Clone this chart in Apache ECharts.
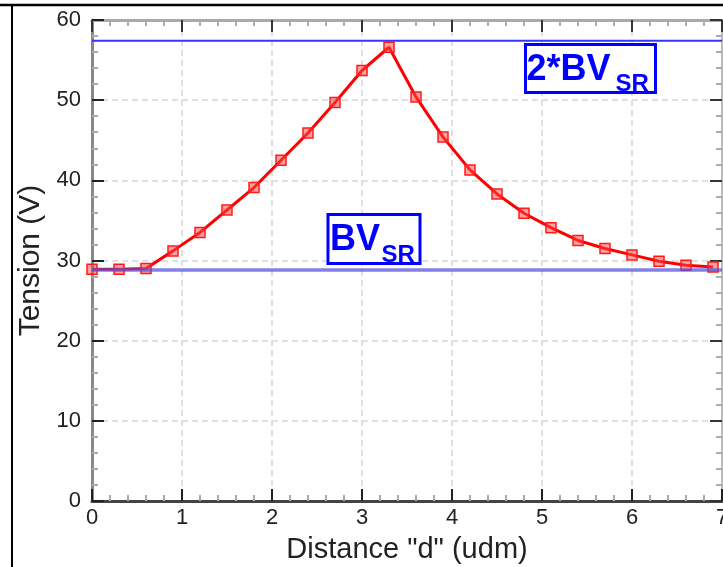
<!DOCTYPE html>
<html>
<head>
<meta charset="utf-8">
<script src="https://cdn.jsdelivr.net/npm/echarts@6/dist/echarts.min.js"></script>
<style>
html,body{margin:0;padding:0;background:#fff;}
#c{width:723px;height:567px;}
</style>
</head>
<body>
<div id="c"></div>
<script>
// ---- data ----
var distance = [0, 0.3, 0.6, 0.9, 1.2, 1.5, 1.8, 2.1, 2.4, 2.7, 3.0, 3.3,
                3.6, 3.9, 4.2, 4.5, 4.8, 5.1, 5.4, 5.7, 6.0, 6.3, 6.6, 6.9];
var tension = [28.9, 28.9, 29.0, 31.2, 33.5, 36.3, 39.1, 42.5, 45.9, 49.7, 53.7, 56.6,
               50.4, 45.4, 41.3, 38.3, 35.9, 34.1, 32.5, 31.5, 30.7, 29.9, 29.4, 29.2];
var refLevels = [57.4, 28.8];           // 2*BV_SR, BV_SR
var refNames = ['2*BV', 'BV'];
var xTicks = [0, 1, 2, 3, 4, 5, 6, 7];
var yTicks = [0, 10, 20, 30, 40, 50, 60];
var xTitle = 'Distance "d" (udm)';
var yTitle = 'Tension (V)';

var FONT = '"Liberation Sans", Arial, sans-serif';
var chart = echarts.init(document.getElementById('c'), null, {renderer: 'canvas'});

var pts = distance.map(function (d, i) { return [d, tension[i]]; });
var xMin = xTicks[0], xMax = xTicks[xTicks.length - 1];
var yMin = yTicks[0], yMax = yTicks[yTicks.length - 1];

function refSeries(level, color, width) {
  return {
    type: 'line', xAxisIndex: 0, yAxisIndex: 0,
    data: [[xMin, level], [xMax, level]],
    symbol: 'none', silent: true, z: 5,
    lineStyle: {color: color, width: width}
  };
}

chart.setOption({
  animation: false,
  backgroundColor: '#fff',
  grid: {left: 92, top: 20, right: 1, bottom: 66, containLabel: false, outerBoundsMode: 'none'},
  xAxis: [{
    type: 'value', min: xMin, max: xMax, interval: 1, position: 'bottom',
    name: xTitle, nameLocation: 'middle', nameGap: 34,
    nameTextStyle: {fontFamily: FONT, fontSize: 29, color: '#222'},
    axisLine: {show: true, onZero: false, lineStyle: {color: '#444', width: 3}},
    axisTick: {show: true, inside: true, length: 12, lineStyle: {color: '#222', width: 2}},
    minorTick: {show: true, splitNumber: 5, length: 6, lineStyle: {color: '#aaa', width: 2}},
    axisLabel: {fontFamily: FONT, fontSize: 22, color: '#222', margin: 6},
    splitLine: {show: true, lineStyle: {color: '#d6d6d6', width: 1.5, type: [6, 4]}}
  }, {
    type: 'value', min: xMin, max: xMax, interval: 1, position: 'top',
    axisLine: {show: true, onZero: false, lineStyle: {color: '#aaa', width: 3}},
    axisTick: {show: true, inside: true, length: 12, lineStyle: {color: '#333', width: 2}},
    minorTick: {show: true, splitNumber: 5, length: 6, lineStyle: {color: '#aaa', width: 2}},
    axisLabel: {show: false}, splitLine: {show: false}
  }],
  yAxis: [{
    type: 'value', min: yMin, max: yMax, interval: 10, position: 'left',
    name: yTitle, nameLocation: 'middle', nameGap: 46, nameRotate: 90,
    nameTextStyle: {fontFamily: FONT, fontSize: 30, color: '#222'},
    axisLine: {show: true, onZero: false, lineStyle: {color: '#888', width: 3}},
    axisTick: {show: true, inside: true, length: 12, lineStyle: {color: '#222', width: 2}},
    minorTick: {show: true, splitNumber: 5, length: 6, lineStyle: {color: '#aaa', width: 2}},
    axisLabel: {fontFamily: FONT, fontSize: 22, color: '#222', margin: 11},
    splitLine: {show: true, lineStyle: {color: '#d6d6d6', width: 1.5, type: [6, 4]}}
  }, {
    type: 'value', min: yMin, max: yMax, interval: 10, position: 'right',
    axisLine: {show: true, onZero: false, lineStyle: {color: '#bbb', width: 2}},
    axisTick: {show: true, inside: true, length: 12, lineStyle: {color: '#333', width: 2}},
    minorTick: {show: true, splitNumber: 5, length: 6, lineStyle: {color: '#aaa', width: 2}},
    axisLabel: {show: false}, splitLine: {show: false}
  }],
  series: [
    {
      type: 'line', xAxisIndex: 0, yAxisIndex: 0, data: pts, z: 3,
      symbol: 'rect', symbolSize: 10,
      lineStyle: {color: '#ff0000', width: 3},
      itemStyle: {color: 'rgba(255,70,70,0.5)', borderColor: '#ff1a1a', borderWidth: 1.5}
    },
    refSeries(refLevels[0], '#3535ff', 2),
    refSeries(refLevels[1], 'rgba(80,80,225,0.72)', 3.5)
  ],
  graphic: [
    // outer frame (top and left borders visible in reference)
    {type: 'line', shape: {x1: 0, y1: 5, x2: 723, y2: 5}, style: {stroke: '#000', lineWidth: 2.5}},
    {type: 'line', shape: {x1: 12, y1: 5, x2: 12, y2: 567}, style: {stroke: '#000', lineWidth: 2}},
    // 2*BV_SR label
    {type: 'rect', shape: {x: 525.5, y: 44.5, width: 130, height: 48},
     style: {fill: '#fff', stroke: '#0000ff', lineWidth: 3}, z: 10},
    {type: 'text', x: 526.5, y: 70, z: 11,
     style: {text: refNames[0], font: 'bold 36px ' + FONT, fill: '#0000ff', verticalAlign: 'middle', align: 'left'}},
    {type: 'text', x: 615.5, y: 84.5, z: 11,
     style: {text: 'SR', font: 'bold 24px ' + FONT, fill: '#0000ff', verticalAlign: 'middle', align: 'left'}},
    // BV_SR label
    {type: 'rect', shape: {x: 328, y: 214.5, width: 92, height: 49},
     style: {fill: '#fff', stroke: '#0000ff', lineWidth: 3}, z: 10},
    {type: 'text', x: 330, y: 240, z: 11,
     style: {text: refNames[1], font: 'bold 36px ' + FONT, fill: '#0000ff', verticalAlign: 'middle', align: 'left'}},
    {type: 'text', x: 381.5, y: 255.5, z: 11,
     style: {text: 'SR', font: 'bold 24px ' + FONT, fill: '#0000ff', verticalAlign: 'middle', align: 'left'}}
  ]
});
</script>
</body>
</html>
